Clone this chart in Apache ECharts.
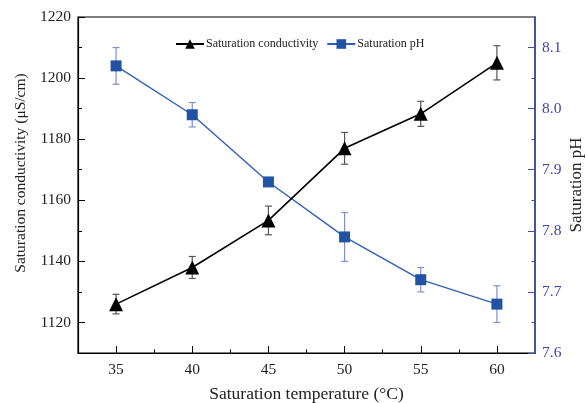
<!DOCTYPE html>
<html>
<head>
<meta charset="utf-8">
<script src="https://cdn.jsdelivr.net/npm/echarts@6/dist/echarts.min.js"></script>
<style>html,body{margin:0;padding:0;background:#fff;}#c{width:585px;height:403px;}</style>
</head>
<body>
<div id="c"></div>
<script>
const temperature = [35, 40, 45, 50, 55, 60];
const conductivity = [1126, 1138, 1153.4, 1177, 1188.3, 1205];
const conductivityErr = [3.2, 3.6, 4.7, 5.2, 4.1, 5.6];
const ph = [8.07, 7.99, 7.88, 7.79, 7.72, 7.68];
const phErr = [0.03, 0.02, 0.006, 0.04, 0.02, 0.03];
const xMajorTicks = [35, 40, 45, 50, 55, 60];
const xMinorTicks = [37.5, 42.5, 47.5, 52.5, 57.5];
const condMajorTicks = [1120, 1140, 1160, 1180, 1200, 1220];
const condMinorTicks = [1130, 1150, 1170, 1190, 1210];
const phMajorTicks = [7.6, 7.7, 7.8, 7.9, 8.0, 8.1];
const phMinorTicks = [7.65, 7.75, 7.85, 7.95, 8.05];

const FONT = 'Liberation Serif';
const BLUE_AXIS = '#3a4db0';

function errData(vals, errs) {
  return temperature.map((t, i) => [t, vals[i] - errs[i], vals[i] + errs[i]]);
}
function errRender(color) {
  return function (params, api) {
    const x = api.value(0);
    const lo = api.coord([x, api.value(1)]);
    const hi = api.coord([x, api.value(2)]);
    const w = 3.5;
    const style = { stroke: color, lineWidth: 1.2 };
    return {
      type: 'group',
      children: [
        { type: 'line', shape: { x1: lo[0], y1: lo[1], x2: hi[0], y2: hi[1] }, style },
        { type: 'line', shape: { x1: lo[0] - w, y1: lo[1], x2: lo[0] + w, y2: lo[1] }, style },
        { type: 'line', shape: { x1: hi[0] - w, y1: hi[1], x2: hi[0] + w, y2: hi[1] }, style }
      ]
    };
  };
}

const chart = echarts.init(document.getElementById('c'));
const xMin = 32.5, xMax = 62.5;
chart.setOption({
  animation: false,
  textStyle: { fontFamily: FONT },
  grid: { left: 78, right: 50, top: 17, bottom: 50, outerBoundsMode: 'none', containLabel: false,
    show: true, borderColor: '#000', borderWidth: 1.2, backgroundColor: 'transparent' },
  legend: {
    left: 170, top: 33,
    itemWidth: 28, itemHeight: 12, itemGap: 8,
    textStyle: { fontFamily: FONT, fontSize: 12, color: '#222', padding: [0, 0, 0, -3] },
    data: ['Saturation conductivity', 'Saturation pH']
  },
  xAxis: [
    {
      type: 'value', min: xMin, max: xMax, position: 'bottom',
      name: 'Saturation temperature (\u00b0C)', nameLocation: 'middle', nameGap: 32,
      nameTextStyle: { fontFamily: FONT, fontSize: 17.5, color: '#222' },
      axisLine: { show: true, lineStyle: { color: '#000', width: 1.2 } },
      axisTick: { show: true, inside: true, length: 7, customValues: xMajorTicks, lineStyle: { color: '#000' } },
      axisLabel: { customValues: xMajorTicks, fontFamily: FONT, fontSize: 15.5, color: '#222', margin: 9 },
      splitLine: { show: false }
    },
    {
      type: 'value', min: xMin, max: xMax, position: 'bottom',
      axisLine: { show: false },
      axisTick: { show: true, inside: true, length: 3.5, customValues: xMinorTicks, lineStyle: { color: '#000' } },
      axisLabel: { show: false },
      splitLine: { show: false }
    }
  ],
  yAxis: [
    {
      type: 'value', min: 1110, max: 1220, position: 'left',
      name: 'Saturation conductivity (\u03bcS/cm)', nameLocation: 'middle', nameGap: 48,
      nameTextStyle: { fontFamily: FONT, fontSize: 15.5, color: '#222', padding: [0, 0, 0, 24] },
      axisLine: { show: true, lineStyle: { color: '#000', width: 1.2 } },
      axisTick: { show: true, inside: true, length: 7, customValues: condMajorTicks, lineStyle: { color: '#000' } },
      axisLabel: { customValues: condMajorTicks, fontFamily: FONT, fontSize: 15.5, color: '#222', margin: 7,
        formatter: v => String(v) },
      splitLine: { show: false }
    },
    {
      type: 'value', min: 7.6, max: 8.15, position: 'right',
      name: 'Saturation pH', nameLocation: 'middle', nameGap: 33, nameRotate: 90, nameMoveOverlap: false,
      nameTextStyle: { fontFamily: FONT, fontSize: 17, color: '#222' },
      axisLine: { show: true, lineStyle: { color: BLUE_AXIS, width: 1.5 } },
      axisTick: { show: true, inside: true, length: 7, customValues: phMajorTicks, lineStyle: { color: BLUE_AXIS } },
      axisLabel: { customValues: phMajorTicks, fontFamily: FONT, fontSize: 15.5, color: '#3f44a8', margin: 7,
        formatter: v => Number(v).toFixed(1) },
      splitLine: { show: false }
    },
    {
      type: 'value', min: 1110, max: 1220, position: 'left',
      axisLine: { show: false },
      axisTick: { show: true, inside: true, length: 4, customValues: condMinorTicks, lineStyle: { color: '#000' } },
      axisLabel: { show: false },
      splitLine: { show: false }
    },
    {
      type: 'value', min: 7.6, max: 8.15, position: 'right',
      axisLine: { show: false },
      axisTick: { show: true, inside: true, length: 3.5, customValues: phMinorTicks, lineStyle: { color: BLUE_AXIS } },
      axisLabel: { show: false },
      splitLine: { show: false }
    }
  ],
  series: [
    {
      type: 'custom', name: 'condErr', xAxisIndex: 0, yAxisIndex: 0, z: 1,
      renderItem: errRender('#555'),
      data: errData(conductivity, conductivityErr)
    },
    {
      type: 'custom', name: 'phErr', xAxisIndex: 0, yAxisIndex: 1, z: 1,
      renderItem: errRender('#7f8fd4'),
      data: errData(ph, phErr)
    },
    {
      type: 'line', name: 'Saturation conductivity', xAxisIndex: 0, yAxisIndex: 0, z: 3,
      data: temperature.map((t, i) => [t, conductivity[i]]),
      symbol: 'triangle', symbolSize: 14,
      lineStyle: { color: '#000', width: 1.6 },
      itemStyle: { color: '#000' }
    },
    {
      type: 'line', name: 'Saturation pH', xAxisIndex: 0, yAxisIndex: 1, z: 2,
      data: temperature.map((t, i) => [t, ph[i]]),
      symbol: 'rect', symbolSize: 11,
      lineStyle: { color: '#2f5fb8', width: 1.4 },
      itemStyle: { color: '#2152a3' }
    }
  ]
});
</script>
</body>
</html>
